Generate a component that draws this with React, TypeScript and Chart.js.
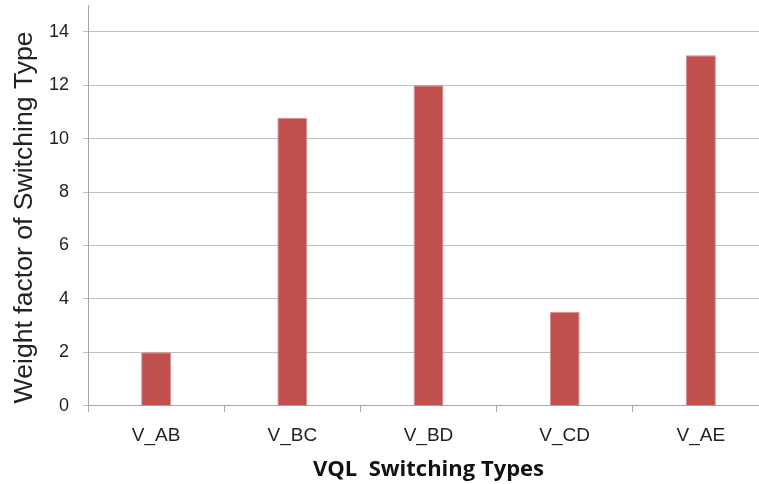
import React, { useEffect, useRef } from "react";
import { Chart, registerables } from "chart.js";

Chart.register(...registerables);

const categories = ["V_AB", "V_BC", "V_BD", "V_CD", "V_AE"];
const weights = [2.0, 10.78, 12.0, 3.52, 13.12];
const yTicks = [0, 2, 4, 6, 8, 10, 12, 14];
const yAxisTitle = "Weight factor of Switching Type";
const xAxisTitle = "VQL  Switching Types";

const yTitlePlugin = {
  id: "yTitleOffset",
  afterDraw(chart: any) {
    const ctx = chart.ctx;
    const area = chart.chartArea;
    ctx.save();
    ctx.translate(25, (area.top + area.bottom) / 2 + 12);
    ctx.rotate(-Math.PI / 2);
    ctx.textAlign = "center";
    ctx.textBaseline = "middle";
    ctx.fillStyle = "#222222";
    ctx.font = "26.6px 'Liberation Sans', Arial, sans-serif";
    ctx.fillText(yAxisTitle, 0, 0);
    ctx.restore();
  },
};

export default function App() {
  const ref = useRef<HTMLCanvasElement | null>(null);

  useEffect(() => {
    if (!ref.current) return;
    const chart = new Chart(ref.current, {
      type: "bar",
      data: {
        labels: categories,
        datasets: [
          {
            data: weights,
            backgroundColor: "#C0504D",
            borderColor: "#D88B89",
            borderWidth: { left: 1, right: 1, top: 1, bottom: 0 },
            categoryPercentage: 1,
            barPercentage: 0.22,
          },
        ],
      },
      options: {
        responsive: false,
        animation: false,
        layout: { padding: { top: 5, right: 11, left: 35, bottom: 1 } },
        plugins: { legend: { display: false }, tooltip: { enabled: false } },
        scales: {
          x: {
            offset: true,
            grid: {
              offset: true,
              drawOnChartArea: false,
              drawTicks: true,
              tickLength: 6,
              color: "#A6A6A6",
            },
            border: { display: true, color: "#A6A6A6", width: 1 },
            ticks: {
              color: "#222222",
              font: { family: "'Liberation Sans', Arial, sans-serif", size: 19 },
              padding: 13,
              maxRotation: 0,
            },
            title: {
              display: true,
              text: xAxisTitle,
              color: "#111111",
              font: { family: "'Open Sans', sans-serif", size: 22, weight: "bold" },
              padding: { top: -4, bottom: 0 },
            },
          },
          y: {
            min: 0,
            max: 15,
            afterBuildTicks: (axis: any) => {
              axis.ticks = yTicks.map((v) => ({ value: v }));
            },
            afterFit: (scale: any) => {
              scale.paddingTop = 0;
              scale.paddingBottom = 0;
            },
            grid: {
              color: "#BFBFBF",
              lineWidth: 1,
              drawTicks: true,
              tickLength: 5,
            },
            border: { display: true, color: "#A6A6A6", width: 1 },
            ticks: {
              color: "#222222",
              font: { family: "'Liberation Sans', Arial, sans-serif", size: 18 },
              padding: 14,
            },
            title: { display: false },
          },
        },
      },
      plugins: [yTitlePlugin],
    });
    return () => chart.destroy();
  }, []);

  return (
    <div
      style={{
        position: "fixed",
        left: 0,
        top: 0,
        width: 759,
        height: 484,
        overflow: "hidden",
        background: "#ffffff",
      }}
    >
      <canvas ref={ref} width={780} height={484} style={{ width: 780, height: 484, display: "block" }} />
    </div>
  );
}
